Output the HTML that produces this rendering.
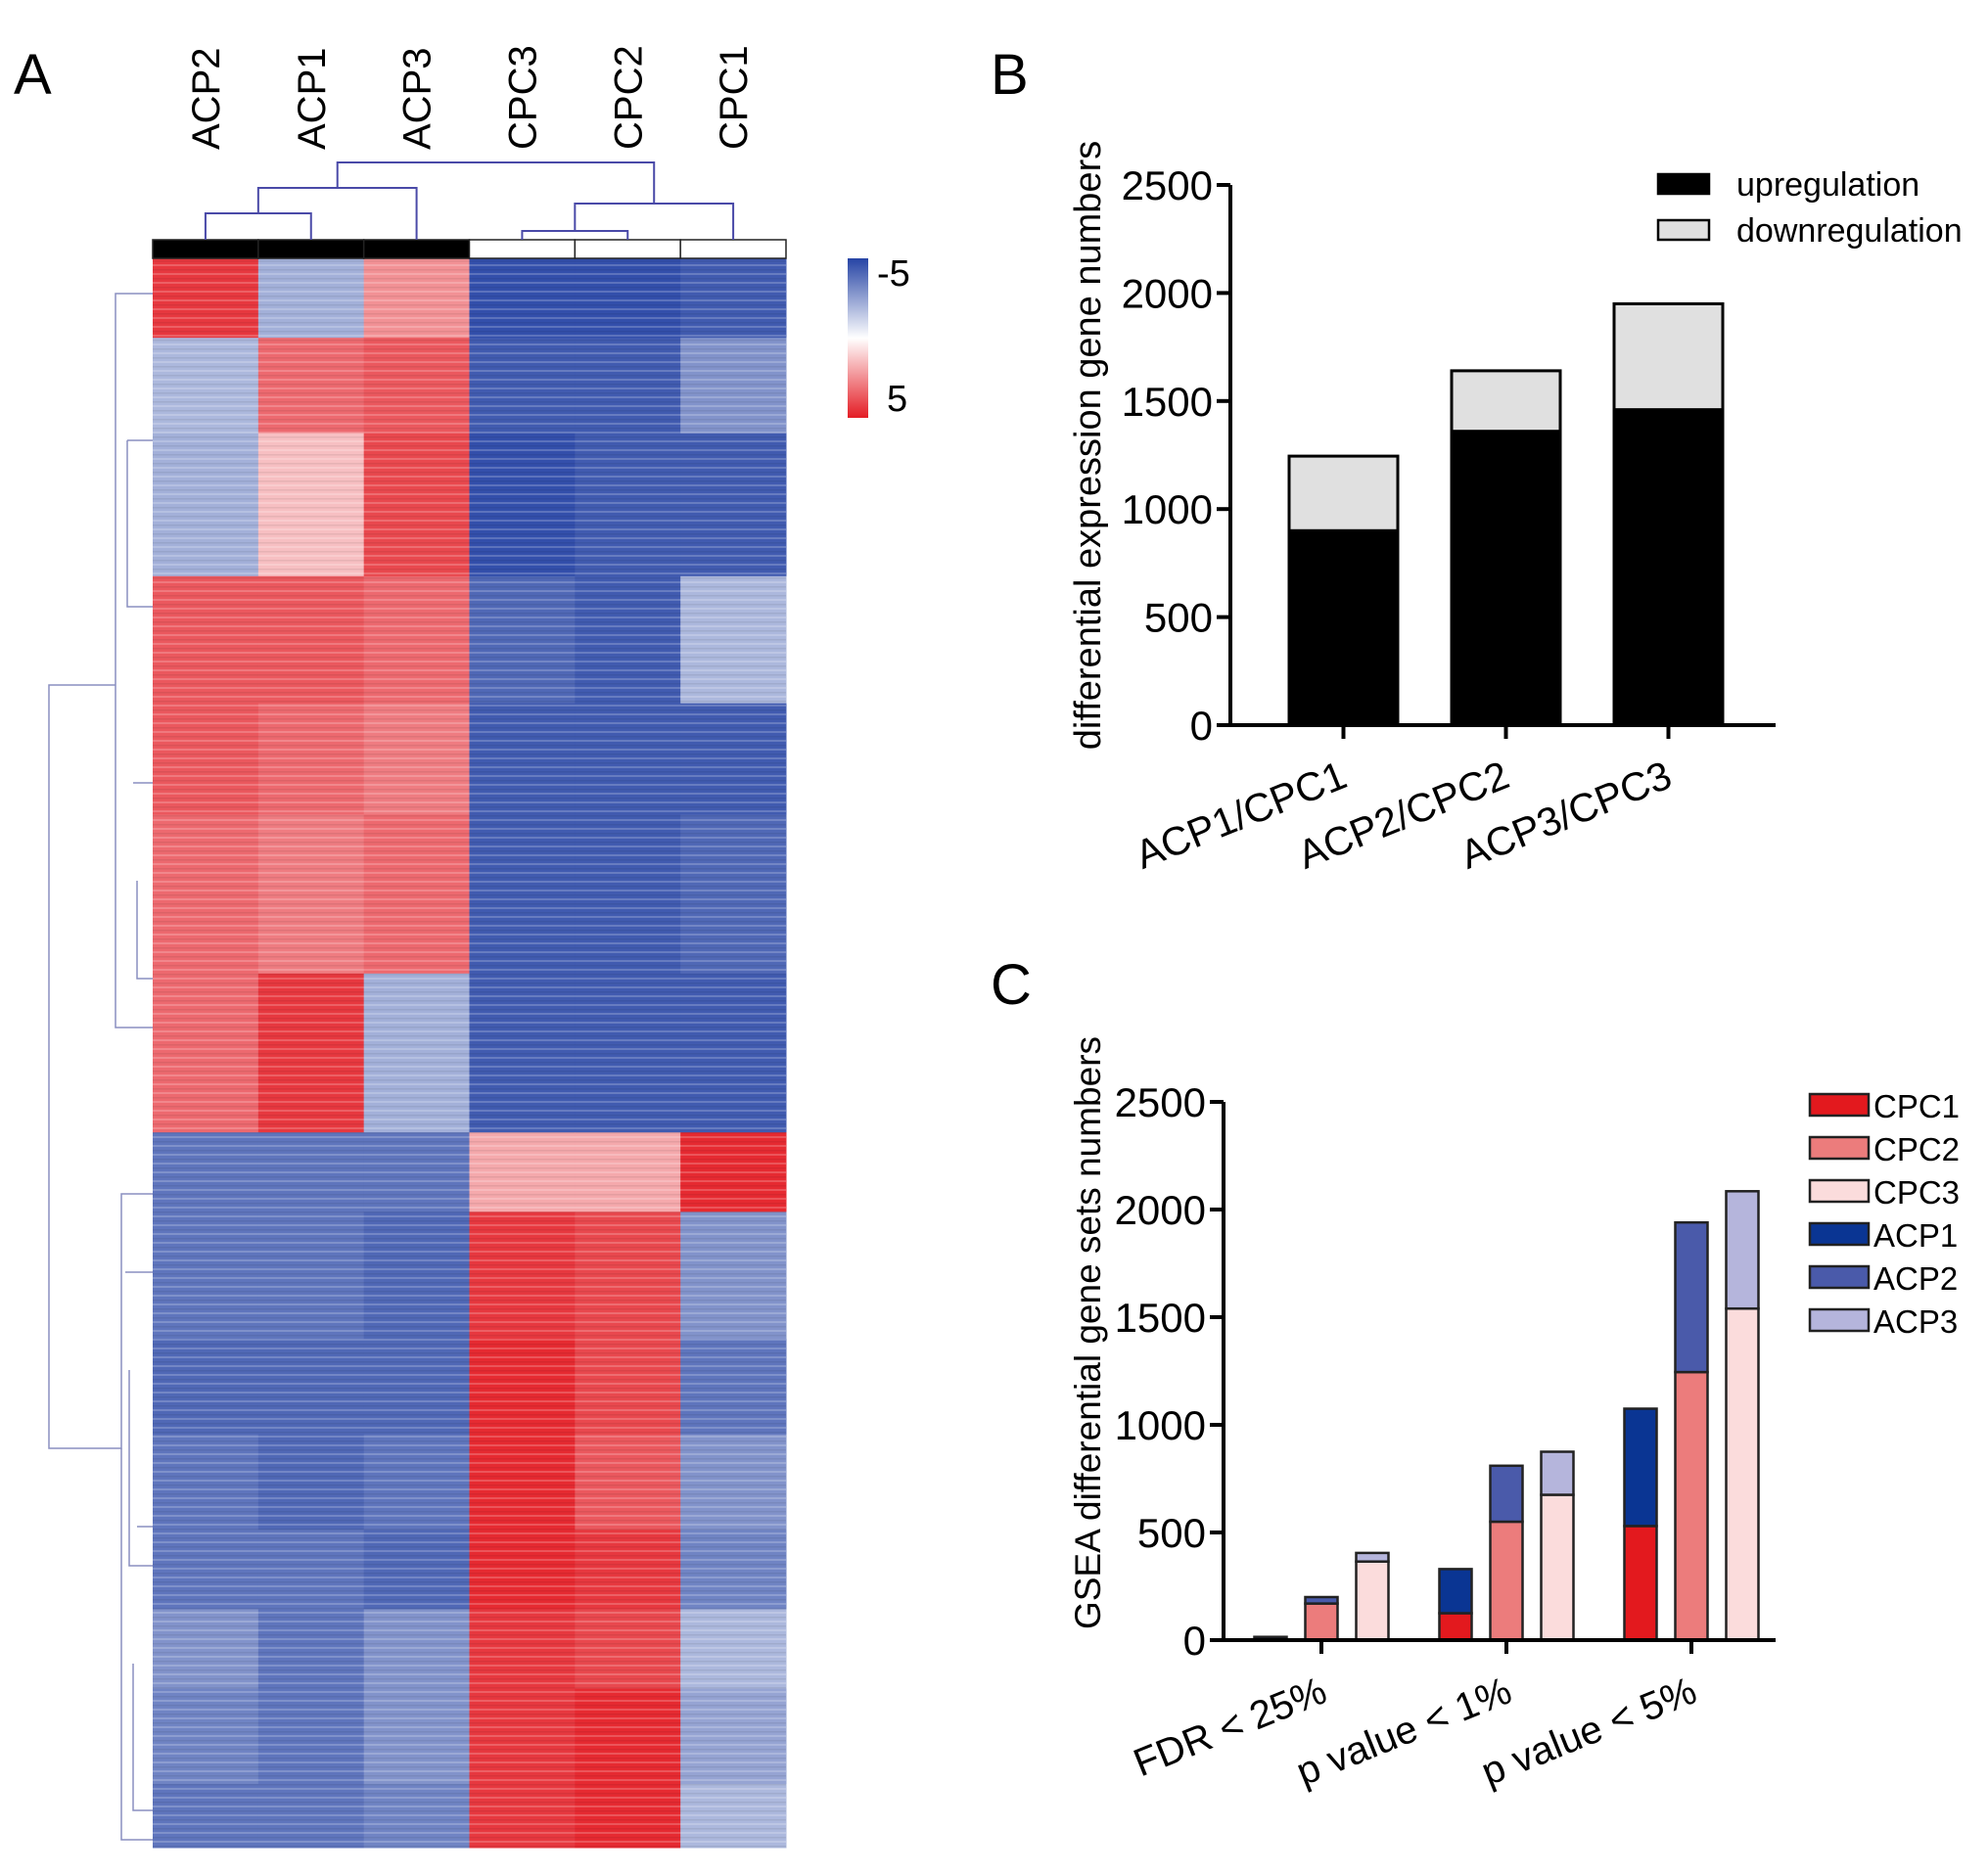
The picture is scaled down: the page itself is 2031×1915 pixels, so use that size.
<!DOCTYPE html>
<html><head><meta charset="utf-8"><style>
html,body{margin:0;padding:0;background:#fff;}
svg{display:block;font-family:"Liberation Sans",Arial,sans-serif;}
</style></head><body>
<svg id="fig" width="2031" height="1915" viewBox="0 0 2031 1915" xmlns="http://www.w3.org/2000/svg">
<defs>
<pattern id="stripes" width="10" height="9" patternUnits="userSpaceOnUse">
<rect x="0" y="0" width="10" height="2" fill="#ffffff" opacity="0.2"/>
<rect x="0" y="5" width="10" height="1.5" fill="#000000" opacity="0.07"/>
</pattern>
</defs>
<text x="14" y="96" font-size="58">A</text>
<text x="1012" y="96" font-size="58">B</text>
<text x="1012" y="1026" font-size="58">C</text>
<g id="heat"></g>
<g id="barB"></g>
<g id="barC"></g>
</svg>
<script>
// ---------- Heatmap data ----------
const hmSamples = ["ACP2","ACP1","ACP3","CPC3","CPC2","CPC1"];
const hmGroups = [1,1,1,0,0,0];
const hmSegStart = [0,0.05,0.11,0.2,0.28,0.35,0.45,0.55,0.6,0.68,0.74,0.8,0.85,0.9,0.96];
const hmSegEnd   = [0.05,0.11,0.2,0.28,0.35,0.45,0.55,0.6,0.68,0.74,0.8,0.85,0.9,0.96,1];
const hmSegValues = [
 [4,-1.2,1.5,-4.5,-4.5,-4],
 [-1,2.5,3,-4,-4,-2],
 [-1.2,0.6,3.5,-4.5,-4,-4],
 [3,3,2.5,-3.5,-4,-1],
 [3,2.5,2,-4,-4,-4],
 [2.5,2,2.5,-4,-4,-3.5],
 [2.5,4,-1.2,-4,-4,-4],
 [-3,-3,-3,1,1,4.5],
 [-3,-3,-3.5,4,3.5,-2],
 [-3.5,-3.5,-3.5,4.5,3.5,-3],
 [-3,-3.5,-3,4.5,3,-2],
 [-3,-3,-3.5,4.5,4,-2.5],
 [-2,-3,-2,4,3.5,-1],
 [-2.5,-3,-2,4,4.5,-1.5],
 [-3,-3,-2.5,4,4.5,-1]
];
// ---------- Chart B data ----------
const bCategories = ["ACP1/CPC1","ACP2/CPC2","ACP3/CPC3"];
const bUp = [900,1360,1460];
const bDown = [345,280,490];
const bTicks = [0,500,1000,1500,2000,2500];
// ---------- Chart C data ----------
const cCategories = ["FDR < 25%","p value < 1%","p value < 5%"];
const cCPC1 = [0,125,530];
const cACP1 = [15,205,545];
const cCPC2 = [170,550,1245];
const cACP2 = [30,260,695];
const cCPC3 = [365,675,1540];
const cACP3 = [40,200,545];
const cTicks = [0,500,1000,1500,2000,2500];
const cLegend = ["CPC1","CPC2","CPC3","ACP1","ACP2","ACP3"];

const NS="http://www.w3.org/2000/svg";
function mk(tag,attrs,parent){const e=document.createElementNS(NS,tag);for(const k in attrs)e.setAttribute(k,attrs[k]);parent.appendChild(e);return e;}
function lerp(a,b,t){return Math.round(a+(b-a)*t);}
function heatColor(v){
  const t=Math.max(-1,Math.min(1,v/5));
  const W=[255,255,255],B=[38,68,165],R=[228,28,36];
  const c=t<0?B:R;const a=Math.pow(Math.abs(t),0.6);
  return `rgb(${lerp(W[0],c[0],a)},${lerp(W[1],c[1],a)},${lerp(W[2],c[2],a)})`;
}

// ---------- Heatmap ----------
(function(){
  const g=document.getElementById('heat');
  const x0=156,x1=803,y0=264,y1=1888;
  const cw=(x1-x0)/hmSamples.length;
  hmSegValues.forEach((row,si)=>{
    row.forEach((v,ci)=>{
      const r=mk('rect',{x:x0+ci*cw,y:y0+hmSegStart[si]*(y1-y0),width:cw+0.5,height:(hmSegEnd[si]-hmSegStart[si])*(y1-y0)+0.5,fill:heatColor(v)},g);
      
      
    });
  });
  const ov=mk('rect',{x:x0,y:y0,width:x1-x0,height:y1-y0,fill:'url(#stripes)'},g);
  
  
  hmSamples.forEach((s,ci)=>{
    const r=mk('rect',{x:x0+ci*cw,y:245,width:cw,height:19,fill:hmGroups[ci]?'#000':'#fff',stroke:'#222','stroke-width':1.5},g);
    
    
    const t=mk('text',{x:0,y:0,'font-size':40,'text-anchor':'start',transform:`translate(${x0+(ci+0.5)*cw+14},153) rotate(-90)`},g);
    t.textContent=s;
    
    
  });
  const cx=i=>x0+(i+0.5)*cw;
  const dc='#4a4aa8';
  const dpaths=[
    `M${cx(0)},245 V218 H${cx(1)} V245`,
    `M${(cx(0)+cx(1))/2},218 V192 H${cx(2)} V245`,
    `M${cx(3)},245 V236 H${cx(4)} V245`,
    `M${(cx(3)+cx(4))/2},236 V208 H${cx(5)} V245`,
    `M${((cx(0)+cx(1))/2+cx(2))/2},192 V166 H${((cx(3)+cx(4))/2+cx(5))/2} V208`
  ];
  dpaths.forEach(d=>{const p=mk('path',{d:d,fill:'none',stroke:dc,'stroke-width':2},g);
    });
  const rc='#8a8fc0';
  const rpaths=[
    `M156,300 H118 V1050 H156`,
    `M118,700 H50 V1480 H124 V1220 H156`,
    `M124,1480 V1880 H156`,
    `M130,450 H156 M130,450 V620 H156 M136,800 H156 M140,900 V1000 H156`,
    `M128,1300 H156 M132,1400 V1600 H156 M136,1700 V1850 H156 M140,1560 H156`
  ];
  rpaths.forEach(d=>{const p=mk('path',{d:d,fill:'none',stroke:rc,'stroke-width':1.5},g);
    });
  const lg=mk('linearGradient',{id:'ckey',x1:0,y1:0,x2:0,y2:1},document.querySelector('defs'));
  mk('stop',{offset:'0',  'stop-color':heatColor(-5)},lg);
  mk('stop',{offset:'0.5','stop-color':'#ffffff'},lg);
  mk('stop',{offset:'1',  'stop-color':heatColor(5)},lg);
  const ck=mk('rect',{x:866,y:264,width:21,height:163,fill:'url(#ckey)'},g);
  
  const t1=mk('text',{x:896,y:292,'font-size':38},g);t1.textContent='-5';
  
  const t2=mk('text',{x:906,y:420,'font-size':38},g);t2.textContent='5';
  
})();

// ---------- Chart B ----------
(function(){
  const g=document.getElementById('barB');
  const ax0=1257,ax1=1814,yb=741,yt=189,max=2500;
  const y=v=>yb-(v/max)*(yb-yt);
  const start=ax0+60;
  const bw=111;
  const xc=i=>start+bw/2+i*166;
  bCategories.forEach((c,i)=>{
    const up=mk('rect',{x:xc(i)-bw/2,y:y(bUp[i]),width:bw,height:yb-y(bUp[i]),fill:'#000',stroke:'#000','stroke-width':3},g);
    
    const dn=mk('rect',{x:xc(i)-bw/2,y:y(bUp[i]+bDown[i]),width:bw,height:y(bUp[i])-y(bUp[i]+bDown[i]),fill:'#e0e0e0',stroke:'#000','stroke-width':3},g);
    
    const tk=mk('line',{x1:xc(i),x2:xc(i),y1:yb,y2:yb+14,stroke:'#000','stroke-width':4},g);
    
    const t=mk('text',{x:0,y:0,'font-size':41,'text-anchor':'end',transform:`translate(${xc(i)+6},${yb+62}) rotate(-22)`},g);
    t.textContent=c;
  });
  const ax=mk('path',{d:`M${ax0},${yt} V${yb} H${ax1}`,fill:'none',stroke:'#000','stroke-width':4},g);
  
  bTicks.forEach(v=>{
    const l=mk('line',{x1:ax0-14,x2:ax0,y1:y(v),y2:y(v),stroke:'#000','stroke-width':4},g);
    
    const t=mk('text',{x:ax0-18,y:y(v)+15,'font-size':42,'text-anchor':'end'},g);t.textContent=v;
    
  });
  const yt2=mk('text',{x:0,y:0,'font-size':38,'text-anchor':'middle',transform:`translate(1124,${(yb+yt)/2-10}) rotate(-90)`},g);
  yt2.textContent='differential expression gene numbers';
  
  [['upregulation','#000'],['downregulation','#e0e0e0']].forEach((e,i)=>{
    const r=mk('rect',{x:1694,y:178+i*47,width:52,height:20,fill:e[1],stroke:'#000','stroke-width':2.5},g);
    
    const t=mk('text',{x:1774,y:200+i*47,'font-size':34},g);t.textContent=e[0];
    
  });
})();

// ---------- Chart C ----------
(function(){
  const g=document.getElementById('barC');
  const ax0=1250,ax1=1814,yb=1676,yt=1126,max=2500;
  const y=v=>yb-(v/max)*(yb-yt);
  const colors={CPC1:'#e3191e',CPC2:'#ec7c7c',CPC3:'#fbdcdc',ACP1:'#0a3593',ACP2:'#4a5aaa',ACP3:'#b5b5dc'};
  const bw=33, gap=52;
  const gc=i=>1350+i*189;
  const stacks=[[cCPC1,cACP1,'CPC1','ACP1'],[cCPC2,cACP2,'CPC2','ACP2'],[cCPC3,cACP3,'CPC3','ACP3']];
  cCategories.forEach((c,i)=>{
    stacks.forEach((s,j)=>{
      const bx=gc(i)+(j-1)*gap-bw/2;
      const a=s[0][i], b=s[1][i];
      if(a>0){const r=mk('rect',{x:bx,y:y(a),width:bw,height:yb-y(a),fill:colors[s[2]],stroke:'#222','stroke-width':2.5},g);
        }
      const r2=mk('rect',{x:bx,y:y(a+b),width:bw,height:y(a)-y(a+b),fill:colors[s[3]],stroke:'#222','stroke-width':2.5},g);
      
    });
    const tk=mk('line',{x1:gc(i),x2:gc(i),y1:yb,y2:yb+14,stroke:'#000','stroke-width':4},g);
    
    const t=mk('text',{x:0,y:0,'font-size':40,'text-anchor':'end',transform:`translate(${gc(i)+8},${yb+62}) rotate(-22)`},g);
    t.textContent=c;
  });
  const ax=mk('path',{d:`M${ax0},${yt} V${yb} H${ax1}`,fill:'none',stroke:'#000','stroke-width':4},g);
  
  cTicks.forEach(v=>{
    const l=mk('line',{x1:ax0-14,x2:ax0,y1:y(v),y2:y(v),stroke:'#000','stroke-width':4},g);
    
    const t=mk('text',{x:ax0-18,y:y(v)+15,'font-size':42,'text-anchor':'end'},g);t.textContent=v;
    
  });
  const yt2=mk('text',{x:0,y:0,'font-size':37,'text-anchor':'middle',transform:`translate(1124,1362) rotate(-90)`},g);
  yt2.textContent='GSEA differential gene sets numbers';
  
  cLegend.forEach((k,i)=>{
    const r=mk('rect',{x:1849,y:1118+i*44,width:60,height:22,fill:colors[k],stroke:'#222','stroke-width':2.5},g);
    
    const t=mk('text',{x:1914,y:1142+i*44,'font-size':33},g);t.textContent=k;
    
  });
})();
</script>
</body></html>
